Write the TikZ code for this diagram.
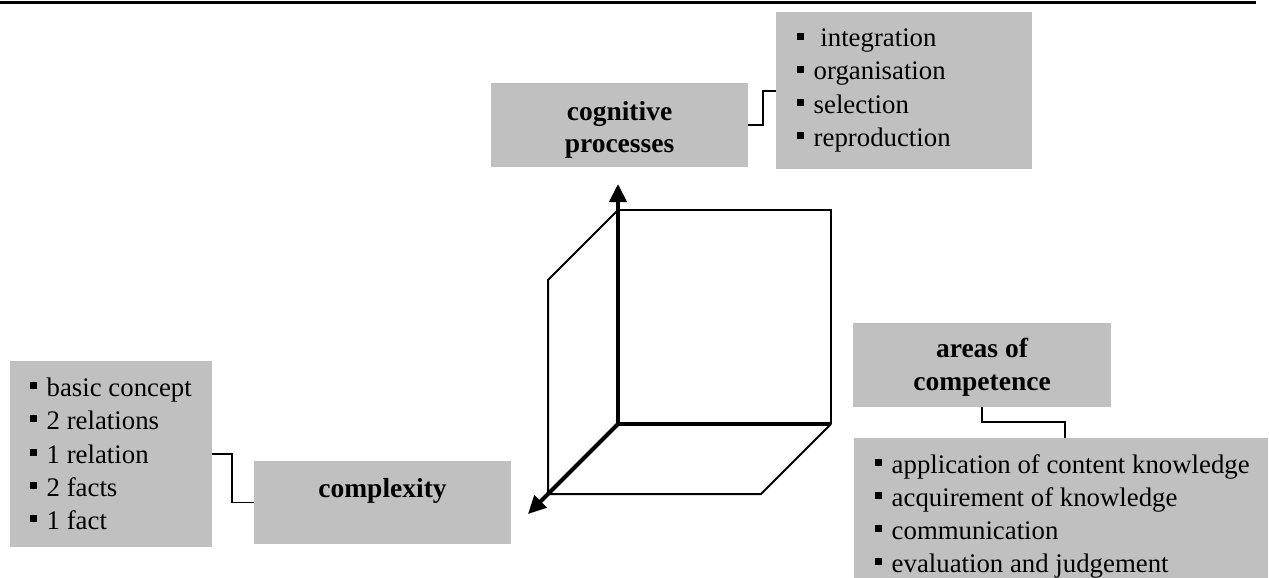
\documentclass[tikz,border=0pt]{standalone}
\usepackage{fontspec}
\setmainfont{Liberation Serif}
\usetikzlibrary{arrows.meta}
\definecolor{boxgray}{RGB}{192,192,192}
\newcommand\bul{\rule[7pt]{7pt}{7pt}\hspace{9.5pt}}
\begin{document}
\begin{tikzpicture}[x=1pt,y=-1pt,
  greybox/.style={fill=boxgray, draw=none, inner sep=0pt, outer sep=0pt, anchor=north west},
  txt/.style={inner sep=0pt, anchor=base west, font=\fontsize{26.8}{33}\selectfont},
  head/.style={inner sep=0pt, anchor=base, font=\fontsize{27.5}{33}\selectfont\bfseries},
  conn/.style={draw=black, line width=1.5pt},
  edgeline/.style={line width=2pt, line join=miter},
  axis/.style={line width=4pt, -{Triangle[length=18pt,width=17pt]}}]
\useasboundingbox (0,0) rectangle (1269,578);
% top rule
\draw[line width=3pt] (0,2.5) -- (1256,2.5);

% grey boxes
\node[greybox, minimum width=257pt, minimum height=84pt] (cp) at (491,83) {};
\node[greybox, minimum width=256pt, minimum height=157pt] (il) at (776,12) {};
\node[greybox, minimum width=202pt, minimum height=186pt] (cl) at (10,361) {};
\node[greybox, minimum width=257pt, minimum height=83pt] (cx) at (254,461) {};
\node[greybox, minimum width=258pt, minimum height=84pt] (ac) at (853,323) {};
\node[greybox, minimum width=414pt, minimum height=152pt] (al) at (854,438) {};

% headers
\node[head] (cpt1) at (619.5,121) {cognitive};
\node[head] (cpt2) at (619.5,152) {processes};
\node[head] (cxt) at (382.5,497) {complexity};
\node[head] (act1) at (982,357) {areas of};
\node[head] (act2) at (982,390) {competence};

% cognitive processes list
\node[txt] (il1) at (797,47) {\bul\ integration};
\node[txt] (il2) at (797,80) {\bul organisation};
\node[txt] (il3) at (797,113) {\bul selection};
\node[txt] (il4) at (797,146) {\bul reproduction};

% complexity list
\node[txt] (cl1) at (30,396) {\bul basic concept};
\node[txt] (cl2) at (30,429) {\bul 2 relations};
\node[txt] (cl3) at (30,463) {\bul 1 relation};
\node[txt] (cl4) at (30,496) {\bul 2 facts};
\node[txt] (cl5) at (30,529) {\bul 1 fact};

% areas list
\node[txt] (al1) at (875,473) {\bul application of content knowledge};
\node[txt] (al2) at (875,506) {\bul acquirement of knowledge};
\node[txt] (al3) at (875,539) {\bul communication};
\node[txt] (al4) at (875,572) {\bul evaluation and judgement};

% connectors
\draw[conn] (cp.east) -- ++(15,0) |- ([yshift=-79pt]il.north west);
\draw[conn] ([yshift=93pt]cl.south east) -- ++(20,0) |- (cx.west);
\draw[conn] (ac.south) -- ++(0,15) -| ([xshift=211pt]al.north west);

% cube
\coordinate (O) at (618,424);
\coordinate (A) at (831,424);
\coordinate (B) at (831,210);
\coordinate (C) at (618,210);
\coordinate (L1) at (548,280);
\coordinate (L2) at (548,494);
\coordinate (L3) at (761,494);
\coordinate (Ytip) at (618,184);
\coordinate (Ztip) at (528,514);
\draw[edgeline] (C) -- (B) -- (A);
\draw[edgeline] (C) -- (L1) -- (L2) -- (L3) -- (A);
\draw[line width=4pt] (O) -- (A);
\draw[axis] (O) -- (Ytip);
\draw[axis] (O) -- (Ztip);
\end{tikzpicture}
\end{document}
